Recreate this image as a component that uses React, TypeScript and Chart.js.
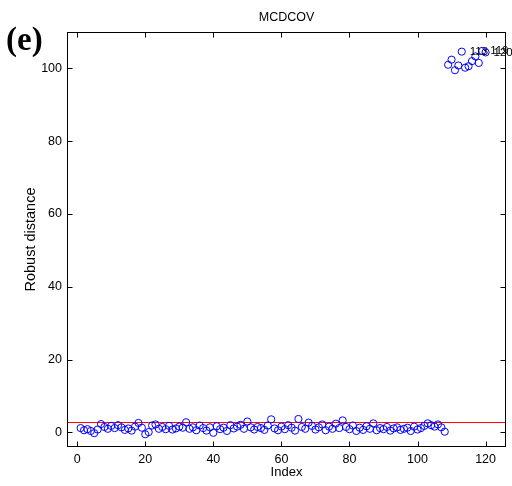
import React, { useEffect, useRef } from "react";
import { Chart, registerables } from "chart.js";

Chart.register(...registerables);

const TITLE = "MCDCOV";
const PANEL_LABEL = "(e)";
const X_TITLE = "Index";
const Y_TITLE = "Robust distance";

// Robust distances for observations 1..120
const distances: number[] = [
  1.2, 0.6, 0.9, 0.4, -0.2, 0.8, 2.3, 1.5, 1.0, 1.8,
  1.2, 2.0, 1.4, 0.7, 1.1, 0.5, 1.6, 2.6, 1.3, -0.5,
  0.1, 1.9, 2.2, 1.0, 1.5, 0.9, 1.8, 0.8, 1.1, 1.6,
  1.3, 2.8, 1.0, 1.4, 0.6, 1.9, 1.2, 0.5, 1.4, -0.1,
  1.7, 0.9, 1.3, 0.4, 2.0, 1.1, 1.6, 2.1, 1.0, 3.0,
  1.4, 0.8, 1.5, 1.2, 0.7, 1.9, 3.6, 1.1, 0.6, 1.6,
  0.9, 2.0, 1.3, 0.5, 3.7, 1.5, 1.0, 2.7, 1.8, 0.8,
  1.4, 2.2, 0.6, 1.6, 1.0, 2.4, 1.2, 3.3, 1.5, 0.9,
  1.9, 0.4, 1.3, 0.7, 1.7, 1.0, 2.5, 0.6, 1.2, 0.9,
  1.5, 0.5, 1.1, 1.4, 0.7, 1.0, 1.3, 0.4, 1.6, 0.8,
  1.2, 1.8, 2.5, 2.0, 1.6, 2.2, 1.4, 0.2, 101.0, 102.4,
  99.5, 100.8, 104.6, 100.2, 100.6, 102.0, 103.3, 101.5, 104.8, 104.4,
];

const CUTOFF = 2.72;
const LABELLED: number[] = [113, 119, 120];

const X_MIN = -3;
const X_MAX = 126;
const Y_MIN = -4;
const Y_MAX = 110;
const X_TICKS: number[] = [0, 20, 40, 60, 80, 100, 120];
const Y_TICKS: number[] = [0, 20, 40, 60, 80, 100];

const FONT = "'Liberation Sans', Arial, Helvetica, sans-serif";

export default function App() {
  const ref = useRef<HTMLCanvasElement | null>(null);

  useEffect(() => {
    if (!ref.current) return;
    const points = distances.map((d, i) => ({ x: i + 1, y: d }));

    const framePlugin = {
      id: "frame",
      afterDraw(chart: any) {
        const { ctx, chartArea: a, scales } = chart;
        ctx.save();
        ctx.strokeStyle = "#000";
        ctx.lineWidth = 1;
        const L = Math.round(a.left) + 0.5;
        const R = Math.round(a.right) - 0.5;
        const T = Math.round(a.top) + 0.5;
        const B = Math.round(a.bottom) - 0.5;
        ctx.strokeRect(L, T, R - L, B - T);
        const tl = 5;
        ctx.beginPath();
        X_TICKS.forEach((v) => {
          const px = Math.round(scales.x.getPixelForValue(v)) + 0.5;
          ctx.moveTo(px, B);
          ctx.lineTo(px, B - tl);
          ctx.moveTo(px, T);
          ctx.lineTo(px, T + tl);
        });
        Y_TICKS.forEach((v) => {
          const py = Math.round(scales.y.getPixelForValue(v)) + 0.5;
          ctx.moveTo(L, py);
          ctx.lineTo(L + tl, py);
          ctx.moveTo(R, py);
          ctx.lineTo(R - tl, py);
        });
        ctx.stroke();

        // point labels
        ctx.fillStyle = "#000";
        ctx.font = `11.5px ${FONT}`;
        ctx.textBaseline = "middle";
        ctx.textAlign = "left";
        LABELLED.forEach((idx) => {
          const px = scales.x.getPixelForValue(idx);
          const py = scales.y.getPixelForValue(distances[idx - 1]);
          ctx.fillText(String(idx), px + 8, py);
        });

        // title
        ctx.font = `12.5px ${FONT}`;
        ctx.textAlign = "center";
        ctx.fillText(TITLE, (a.left + a.right) / 2, 18);

        // panel label
        ctx.font = `bold 33px 'Liberation Serif', 'Times New Roman', serif`;
        ctx.textAlign = "left";
        ctx.fillText(PANEL_LABEL, 6, 41);
        ctx.restore();
      },
    };

    const chart = new Chart(ref.current, {
      type: "scatter",
      data: {
        datasets: [
          {
            label: "distance",
            data: points,
            pointStyle: "circle",
            pointRadius: 3.6,
            pointBorderWidth: 1,
            borderColor: "#0000ff",
            backgroundColor: "rgba(0,0,0,0)",
            showLine: false,
          },
          {
            type: "line",
            label: "cutoff",
            data: [
              { x: X_MIN, y: CUTOFF },
              { x: X_MAX, y: CUTOFF },
            ],
            borderColor: "#ff0000",
            borderWidth: 1,
            pointRadius: 0,
            fill: false,
          } as any,
        ],
      },
      options: {
        animation: false,
        responsive: false,
        maintainAspectRatio: false,
        layout: { padding: { top: 32, right: 6, left: 0, bottom: 0 } },
        plugins: {
          legend: { display: false },
          tooltip: { enabled: false },
          title: { display: false },
        },
        scales: {
          x: {
            type: "linear",
            min: X_MIN,
            max: X_MAX,
            grid: { display: false, drawTicks: false },
            border: { display: false },
            afterBuildTicks: (s: any) => {
              s.ticks = X_TICKS.map((v) => ({ value: v }));
            },
            afterFit: (s: any) => {
              s.height = 39;
            },
            ticks: {
              color: "#000",
              padding: 5,
              maxRotation: 0,
              font: { family: FONT, size: 12.5 },
            },
            title: {
              display: true,
              text: X_TITLE,
              color: "#000",
              font: { family: FONT, size: 13 },
              padding: { top: 0, bottom: 6 },
            },
          },
          y: {
            type: "linear",
            min: Y_MIN,
            max: Y_MAX,
            grid: { display: false, drawTicks: false },
            border: { display: false },
            afterBuildTicks: (s: any) => {
              s.ticks = Y_TICKS.map((v) => ({ value: v }));
            },
            afterFit: (s: any) => {
              s.width = 67;
            },
            ticks: {
              color: "#000",
              padding: 5,
              font: { family: FONT, size: 12.5 },
            },
            title: {
              display: true,
              text: Y_TITLE,
              color: "#000",
              font: { family: FONT, size: 14.5 },
              padding: { top: 22, bottom: 0 },
            },
          },
        },
      } as any,
      plugins: [framePlugin],
    });
    return () => chart.destroy();
  }, []);

  return (
    <div style={{ position: "fixed", left: 0, top: 0, width: 512, height: 486, background: "#fff" }}>
      <canvas ref={ref} width={512} height={486} style={{ width: 512, height: 486 }} />
    </div>
  );
}
